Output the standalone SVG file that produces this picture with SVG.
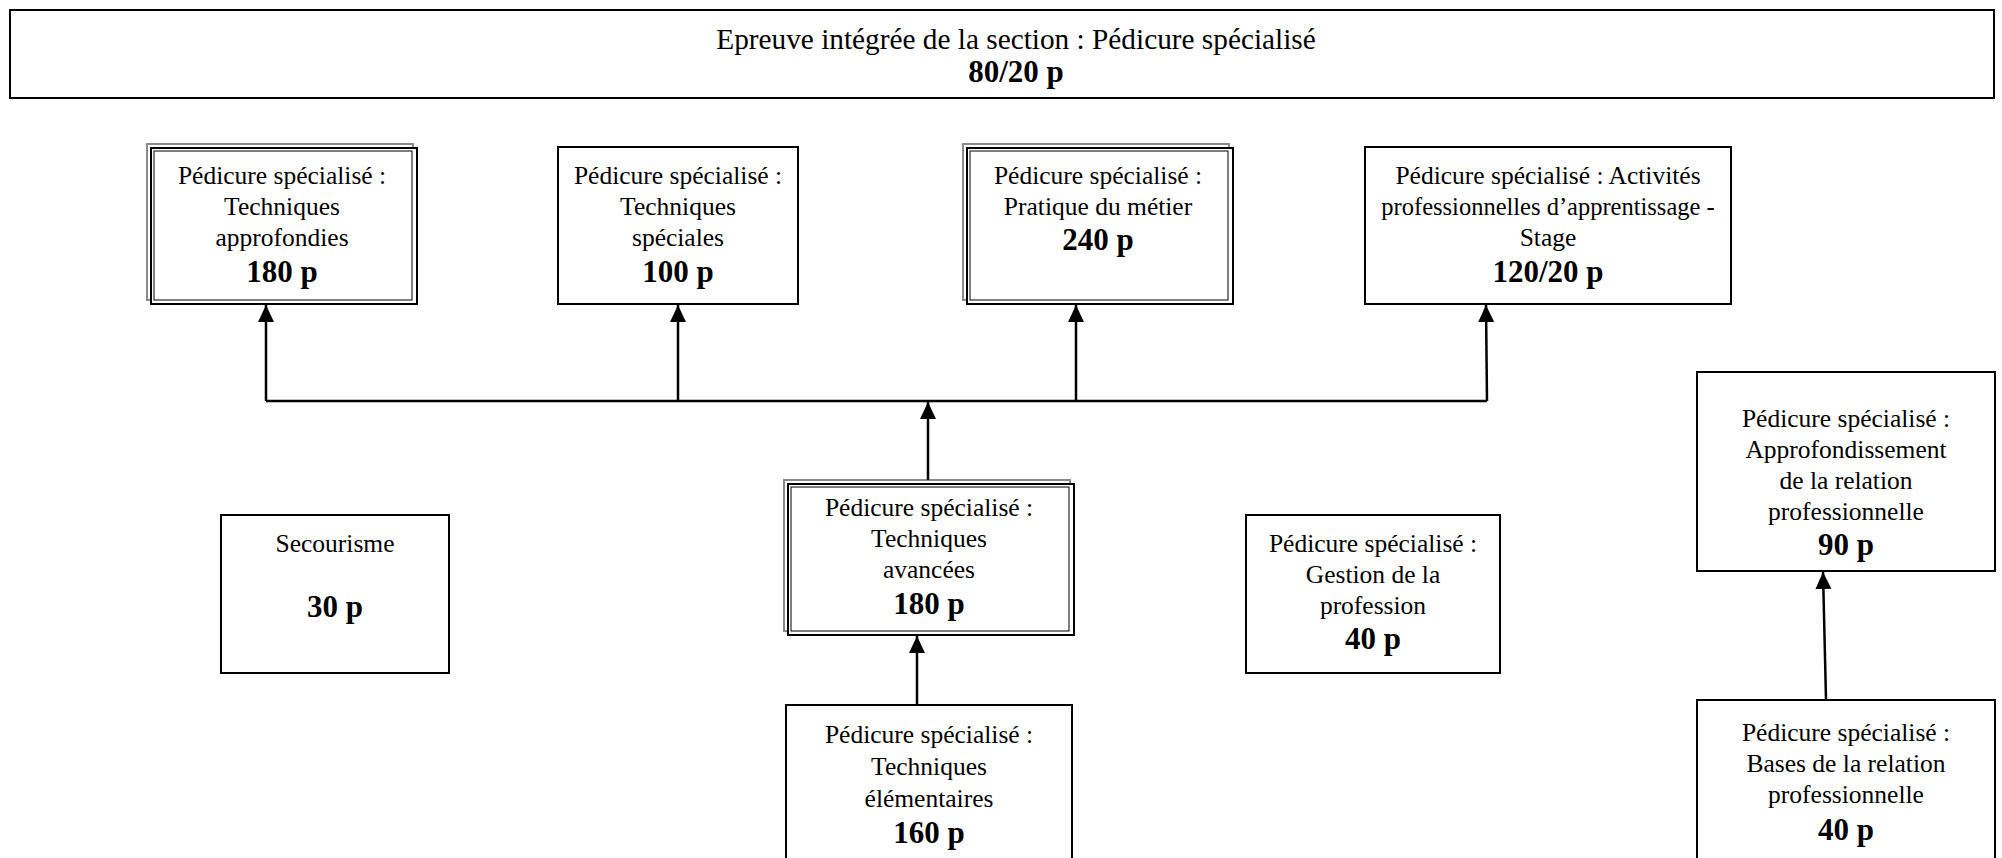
<svg xmlns="http://www.w3.org/2000/svg" width="2002" height="858" viewBox="0 0 2002 858">
<style>
.box{fill:#fff;stroke:#000;stroke-width:2}
.sh{fill:none;stroke:#8a8a8a;stroke-width:2}
.in{fill:none;stroke:#000;stroke-width:1}
text{font-family:"Liberation Serif","Times New Roman",serif;font-size:25.5px;fill:#000;text-anchor:middle}
.b{font-weight:bold;font-size:31px}
.t{font-size:29.3px}
.s{font-size:24.5px}
.con{stroke:#000;stroke-width:2.5;fill:none}
</style>
<defs>
<marker id="ah" markerUnits="userSpaceOnUse" markerWidth="18" markerHeight="18" viewBox="0 0 18 18" refX="17" refY="9" orient="auto">
<path d="M0,1 L17,9 L0,17 Z" fill="#000"/>
</marker>
</defs>
<rect width="2002" height="858" fill="#fff"/>
<g id="title">
<rect class="box" x="10" y="10" width="1984" height="88"/>
<text class="t" x="1016" y="49">Epreuve intégrée de la section : Pédicure spécialisé</text>
<text class="b" x="1016" y="82">80/20 p</text>
</g>
<g id="n-approfondies">
<rect class="sh" x="147" y="144" width="266" height="156"/>
<rect class="box" x="151" y="148" width="266" height="156"/>
<rect class="in" x="154" y="151" width="258" height="149"/>
<text x="282" y="184">Pédicure spécialisé :</text>
<text x="282" y="215">Techniques</text>
<text x="282" y="246">approfondies</text>
<text class="b" x="282" y="282">180 p</text>
</g>
<g id="n-speciales">
<rect class="box" x="558" y="147" width="240" height="157"/>
<text x="678" y="184">Pédicure spécialisé :</text>
<text x="678" y="215">Techniques</text>
<text x="678" y="246">spéciales</text>
<text class="b" x="678" y="282">100 p</text>
</g>
<g id="n-pratique">
<rect class="sh" x="963" y="144" width="266" height="156"/>
<rect class="box" x="967" y="148" width="266" height="156"/>
<rect class="in" x="970" y="151" width="258" height="149"/>
<text x="1098" y="184">Pédicure spécialisé :</text>
<text x="1098" y="215">Pratique du métier</text>
<text class="b" x="1098" y="250">240 p</text>
</g>
<g id="n-stage">
<rect class="box" x="1365" y="147" width="366" height="157"/>
<text x="1548" y="184">Pédicure spécialisé : Activités</text>
<text class="s" x="1548" y="215">professionnelles d’apprentissage -</text>
<text x="1548" y="246">Stage</text>
<text class="b" x="1548" y="282">120/20 p</text>
</g>
<g id="n-avancees">
<rect class="sh" x="784" y="480" width="286" height="151"/>
<rect class="box" x="788" y="484" width="286" height="151"/>
<rect class="in" x="791" y="487" width="278" height="144"/>
<text x="929" y="516">Pédicure spécialisé :</text>
<text x="929" y="547">Techniques</text>
<text x="929" y="578">avancées</text>
<text class="b" x="929" y="614">180 p</text>
</g>
<g id="n-secourisme">
<rect class="box" x="221" y="515" width="228" height="158"/>
<text x="335" y="552">Secourisme</text>
<text class="b" x="335" y="617">30 p</text>
</g>
<g id="n-gestion">
<rect class="box" x="1246" y="515" width="254" height="158"/>
<text x="1373" y="552">Pédicure spécialisé :</text>
<text x="1373" y="583">Gestion de la</text>
<text x="1373" y="614">profession</text>
<text class="b" x="1373" y="649">40 p</text>
</g>
<g id="n-elementaires">
<rect class="box" x="786" y="705" width="286" height="160"/>
<text x="929" y="743">Pédicure spécialisé :</text>
<text x="929" y="775">Techniques</text>
<text x="929" y="807">élémentaires</text>
<text class="b" x="929" y="843">160 p</text>
</g>
<g id="n-approfondissement">
<rect class="box" x="1697" y="372" width="298" height="199"/>
<text x="1846" y="427">Pédicure spécialisé :</text>
<text x="1846" y="458">Approfondissement</text>
<text x="1846" y="489">de la relation</text>
<text x="1846" y="520">professionnelle</text>
<text class="b" x="1846" y="555">90 p</text>
</g>
<g id="n-bases">
<rect class="box" x="1697" y="700" width="298" height="165"/>
<text x="1846" y="741">Pédicure spécialisé :</text>
<text x="1846" y="772">Bases de la relation</text>
<text x="1846" y="803">professionnelle</text>
<text class="b" x="1846" y="840">40 p</text>
</g>
<g id="connectors">
<line class="con" x1="266" y1="401" x2="1487" y2="401"/>
<line class="con" x1="266" y1="401" x2="266" y2="305" marker-end="url(#ah)"/>
<line class="con" x1="678" y1="401" x2="678" y2="305" marker-end="url(#ah)"/>
<line class="con" x1="1076" y1="401" x2="1076" y2="305" marker-end="url(#ah)"/>
<line class="con" x1="1487" y1="401" x2="1486" y2="305" marker-end="url(#ah)"/>
<line class="con" x1="928" y1="480" x2="928" y2="402" marker-end="url(#ah)"/>
<line class="con" x1="917" y1="705" x2="917" y2="636" marker-end="url(#ah)"/>
<line class="con" x1="1826" y1="700" x2="1823" y2="572" marker-end="url(#ah)"/>
</g>
</svg>
